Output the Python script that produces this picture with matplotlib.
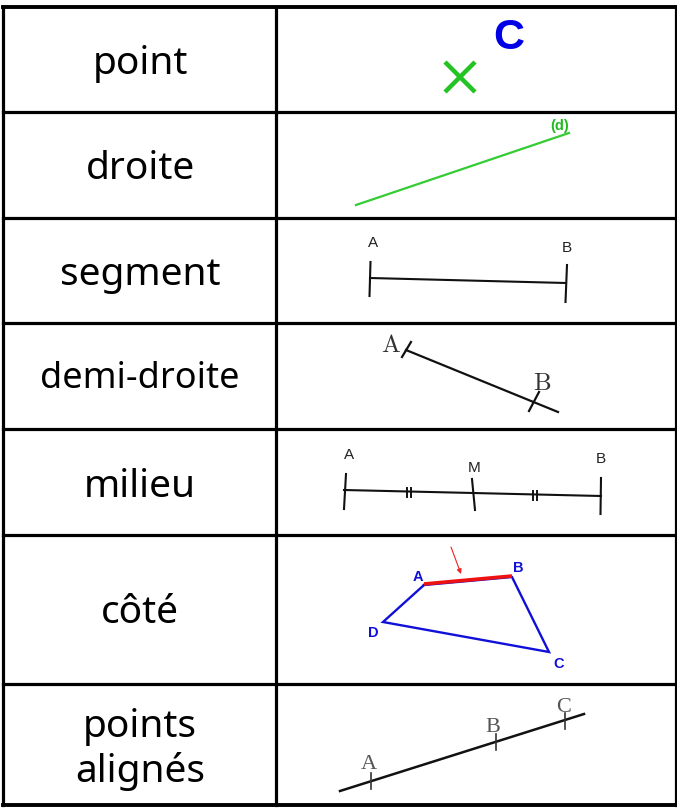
import matplotlib
matplotlib.use("Agg")
import matplotlib.pyplot as plt

# ---------------- data ----------------
row_labels = ["point", "droite", "segment", "demi-droite", "milieu", "côté", "points\nalignés"]
row_label_baselines = [74, 179, 285, 388, 497, 623, 0]
row_edges = [8, 113, 219, 324, 430, 536, 685, 806]
col_edges = [3, 276, 676]

# row 1 : point
point_x = [459.5]
point_y = [77.5]
point_name = "C"
point_name_xy = (508.5, 49)

# row 2 : droite
droite_x = [356, 569]
droite_y = [206, 134]
droite_name = "(d)"
droite_name_xy = (559.5, 130)

# row 3 : segment
seg_x = [370, 566]
seg_y = [279, 284]
seg_tick_top_x = [370.5, 567]
seg_tick_top_y = [263, 266]
seg_tick_bot_x = [369.5, 565.5]
seg_tick_bot_y = [297, 303]
seg_names = ["A", "B"]
seg_names_x = [373, 567]
seg_names_y = [247, 252]

# row 4 : demi-droite
demi_x = [406, 558]
demi_y = [351, 413]
demi_tick_top_x = [411, 539]
demi_tick_top_y = [343, 393]
demi_tick_bot_x = [402, 529]
demi_tick_bot_y = [358, 412]
demi_names = ["A", "B"]
demi_names_x = [391, 542]
demi_names_y = [352, 390]

# row 5 : milieu
mil_x = [344, 473, 601]
mil_y = [491, 494, 497]
mil_tick_top_x = [346, 472, 601]
mil_tick_top_y = [475, 480, 479]
mil_tick_bot_x = [344, 475, 600.5]
mil_tick_bot_y = [510, 511, 515]
mil_names = ["A", "M", "B"]
mil_names_x = [349, 474, 601]
mil_names_y = [459, 472, 463]
mil_hash_x = [409, 535]
mil_hash_y = [493, 496]

# row 6 : côté
quad_names = ["A", "B", "C", "D"]
quad_x = [424, 512, 549, 383]
quad_y = [586, 578, 653, 623]
quad_names_x = [418, 518, 559, 373]
quad_names_y = [581, 572, 668, 637]
arrow_start = (451, 548)
arrow_end = (461, 575)

# row 7 : points alignés
al_line_x = [340, 584]
al_line_y = [792, 715]
al_names = ["A", "B", "C"]
al_x = [371, 496, 565]
al_y = [782, 743, 722]
al_names_x = [369, 493, 564]
al_names_y = [769, 732, 712]

# ---------------- figure ----------------
W, H = 677, 812
fig = plt.figure(figsize=(W / 100, H / 100), dpi=100)
ax = fig.add_axes([0, 0, 1, 1])
ax.set_xlim(0, W)
ax.set_ylim(H, 0)
ax.axis("off")

grid_lw = 2.3
# horizontal lines
for i, y in enumerate(row_edges):
    lw = 2.8 if i in (0, len(row_edges) - 1) else grid_lw
    ax.plot([col_edges[0], col_edges[-1]], [y, y], color="black", lw=lw, solid_capstyle="projecting")
for x in col_edges:
    ax.plot([x, x], [row_edges[0], row_edges[-1]], color="black", lw=grid_lw, solid_capstyle="projecting")

# left-column labels
label_font = ["Noto Sans", "DejaVu Sans"]
label_x = (col_edges[0] + col_edges[1]) / 2 + 0.5
for i, lab in enumerate(row_labels):
    size = 26 if lab == "demi-droite" else 28
    if "\n" in lab:
        ymid = (row_edges[i] + row_edges[i + 1]) / 2
        ax.text(label_x, ymid + 4, lab, ha="center", va="center", fontsize=size,
                family=label_font, linespacing=1.22, color="black")
    else:
        ax.text(label_x, row_label_baselines[i], lab, ha="center", va="baseline",
                fontsize=size, family=label_font, color="black")

green = "#22c322"
blue = "#1010d8"
black = "#111111"

# row 1
ax.plot(point_x, point_y, marker="x", markersize=22, mew=3.2, color=green, linestyle="none")
ax.text(point_name_xy[0], point_name_xy[1], point_name, ha="center", va="baseline",
        fontsize=31, fontweight="bold", family="Liberation Sans", color="#0000e6")

# row 2
ax.plot(droite_x, droite_y, color="#33cc33", lw=1.6)
ax.text(droite_name_xy[0], droite_name_xy[1], droite_name, ha="center", va="baseline",
        fontsize=10.5, fontweight="bold", family="Liberation Sans", color="#22bb22")

# row 3
ax.plot(seg_x, seg_y, color=black, lw=1.5)
for tx, ty, bx, by in zip(seg_tick_top_x, seg_tick_top_y, seg_tick_bot_x, seg_tick_bot_y):
    ax.plot([tx, bx], [ty, by], color=black, lw=1.5)
for n, x, y in zip(seg_names, seg_names_x, seg_names_y):
    ax.text(x, y, n, ha="center", va="baseline", fontsize=11, family="Liberation Sans", color="#222222")

# row 4
ax.plot(demi_x, demi_y, color=black, lw=1.6)
for tx, ty, bx, by in zip(demi_tick_top_x, demi_tick_top_y, demi_tick_bot_x, demi_tick_bot_y):
    ax.plot([tx, bx], [ty, by], color=black, lw=1.6)
for n, x, y in zip(demi_names, demi_names_x, demi_names_y):
    ax.text(x, y, n, ha="center", va="baseline", fontsize=18, family="cmr10", color="#333333")

# row 5
ax.plot(mil_x, mil_y, color=black, lw=1.5)
for tx, ty, bx, by in zip(mil_tick_top_x, mil_tick_top_y, mil_tick_bot_x, mil_tick_bot_y):
    ax.plot([tx, bx], [ty, by], color=black, lw=1.5)
for hx, hy in zip(mil_hash_x, mil_hash_y):
    for dx in (-2, 2):
        ax.plot([hx + dx, hx + dx], [hy - 4.5, hy + 4.5], color=black, lw=1.4)
for n, x, y in zip(mil_names, mil_names_x, mil_names_y):
    ax.text(x, y, n, ha="center", va="baseline", fontsize=11, family="Liberation Sans", color="#222222")

# row 6
qx = quad_x + [quad_x[0]]
qy = quad_y + [quad_y[0]]
ax.plot(qx, qy, color=blue, lw=1.7, solid_joinstyle="miter")
ax.plot(quad_x[:2], [quad_y[0] - 1, quad_y[1] - 1], color="#ee1111", lw=2.6, solid_capstyle="butt")
ax.annotate("", xy=arrow_end, xytext=arrow_start,
            arrowprops=dict(arrowstyle="-|>", color="#ee2222", lw=0.8, mutation_scale=7,
                            shrinkA=0, shrinkB=0))
for n, x, y in zip(quad_names, quad_names_x, quad_names_y):
    ax.text(x, y, n, ha="center", va="baseline", fontsize=10.5, fontweight="bold",
            family="Liberation Sans", color=blue)

# row 7
ax.plot(al_line_x, al_line_y, color=black, lw=1.8)
for x, y in zip(al_x, al_y):
    ax.plot([x, x], [y - 8, y + 8], color="#333333", lw=1.2)
for n, x, y in zip(al_names, al_names_x, al_names_y):
    ax.text(x, y, n, ha="center", va="baseline", fontsize=16, family="Liberation Serif", color="#555555")

fig.savefig("out.png", dpi=100, facecolor="white")
